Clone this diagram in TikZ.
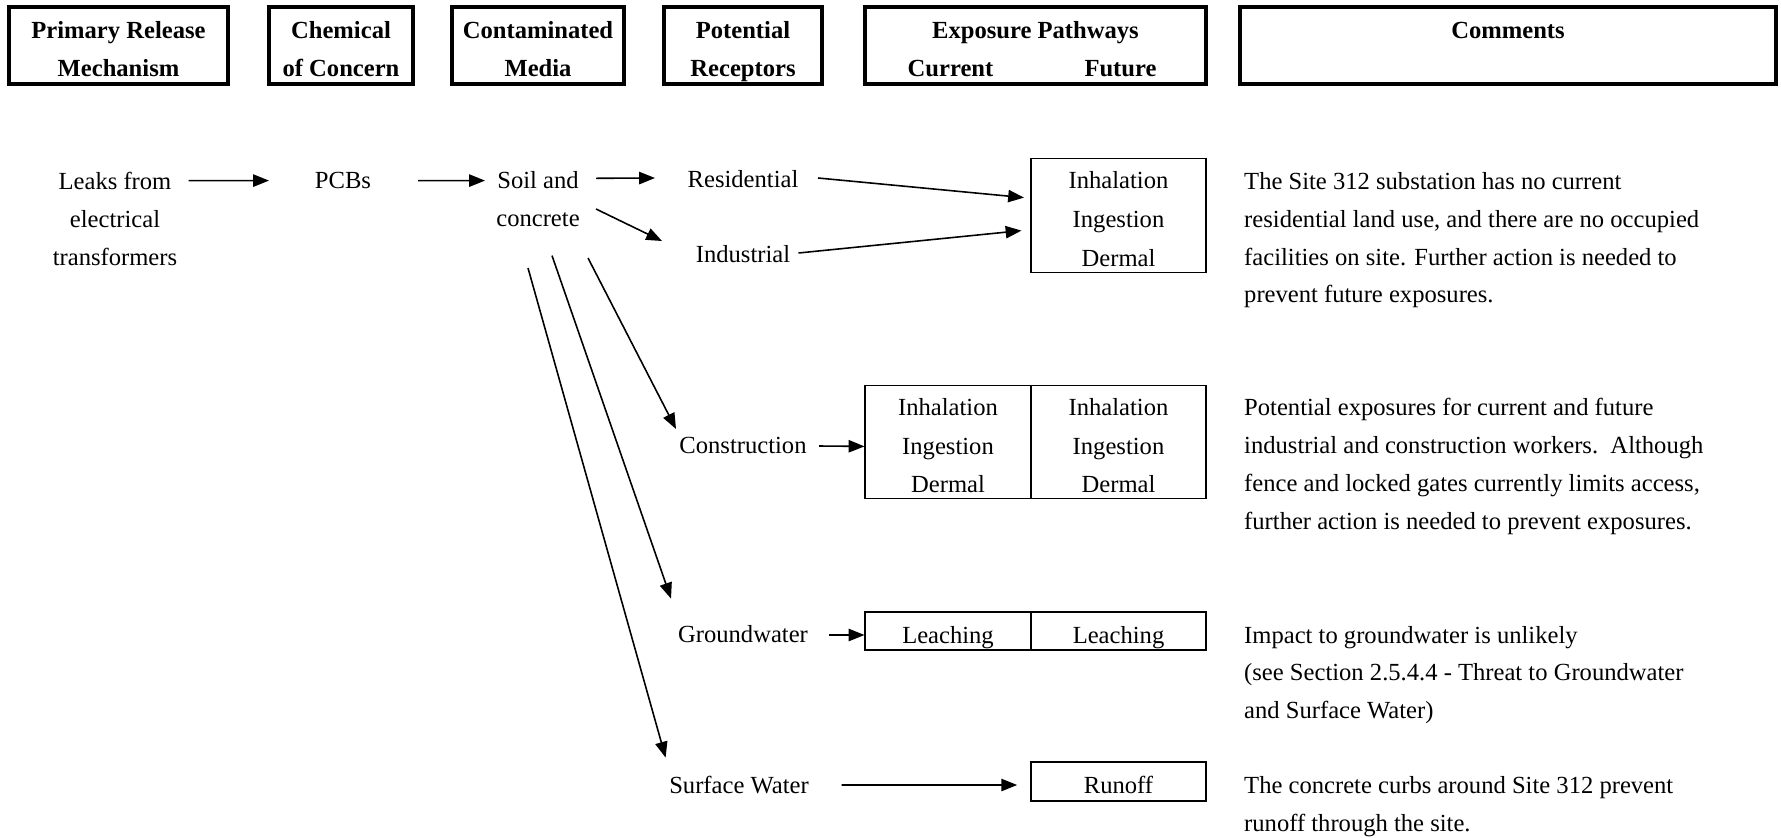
\documentclass[tikz,border=0pt]{standalone}
\usepackage{fontspec}
\setmainfont{Liberation Serif}
\usetikzlibrary{arrows.meta,calc}

\newcommand{\hdtop}{\rule{0pt}{16.6pt}}
\newcommand{\hdbot}{\rule[-3pt]{0pt}{3pt}}
\newcommand{\bxtop}{\rule{0pt}{17pt}}
\newcommand{\bxbot}{\rule[-3pt]{0pt}{3pt}}

\tikzset{
  txt/.style={font=\fontsize{14}{21.5}\selectfont, align=center},
  hdr/.style={draw, line width=1.8pt, font=\fontsize{14}{21.5}\selectfont\bfseries, align=center, minimum height=15.4mm, inner sep=0pt},
  pbox/.style={draw, line width=0.6pt, font=\fontsize{14}{22}\selectfont, align=center, inner sep=0pt},
  cmt/.style={font=\fontsize{14}{21.5}\selectfont, align=left, anchor=west},
  arr/.style={-{Triangle[length=9pt,width=7pt]}, line width=0.9pt}
}

\begin{document}
\begin{tikzpicture}[x=0.2mm,y=-0.2mm]
\useasboundingbox (0,0) rectangle (1781,837);

% headers
\node[hdr, minimum width=43.8mm] (hprm) at (118.5,45.5) {\hdtop Primary Release\\Mechanism\hdbot};
\node[hdr, minimum width=28.8mm] (hcoc) at (341,45.5) {\hdtop Chemical\\of Concern\hdbot};
\node[hdr, minimum width=34.4mm] (hmed) at (538,45.5) {\hdtop Contaminated\\Media\hdbot};
\node[hdr, minimum width=31.6mm] (hrec) at (743,45.5) {\hdtop Potential\\Receptors\hdbot};
\node[hdr, minimum width=68.2mm] (hexp) at (1035.5,45.5) {\hdtop Exposure Pathways\\\makebox[34mm]{Current}\makebox[34mm]{Future}\hdbot};
\node[hdr, minimum width=107.2mm] (hcmt) at (1508,45.5) {\hdtop Comments\\\hdbot};

% sources, media, receptors
\node[txt] (leaks) at (115,218.7) {Leaks from\\electrical\\transformers};
\node[txt] (pcbs) at (343,180.6) {PCBs};
\node[txt] (soil) at (538,199.3) {Soil and\\concrete};
\node[txt] (res) at (743,179) {Residential};
\node[txt] (ind) at (743,254) {Industrial};
\node[txt] (con) at (743,445) {Construction};
\node[txt] (gw) at (743,634) {Groundwater};
\node[txt] (sw) at (739,785) {Surface Water};

% pathway boxes
\node[pbox, minimum width=35mm, minimum height=22.9mm] (pres) at (1118.5,215.3) {\bxtop Inhalation\\Ingestion\\Dermal\bxbot};
\node[pbox, minimum width=33.2mm, minimum height=22.7mm] (pconc) at (948,441.8) {\bxtop Inhalation\\Ingestion\\Dermal\bxbot};
\node[pbox, minimum width=35mm, minimum height=22.7mm] (pconf) at (1118.5,441.8) {\bxtop Inhalation\\Ingestion\\Dermal\bxbot};
\node[pbox, minimum width=33.2mm, minimum height=7.6mm] (pgwc) at (948,631) {\bxtop Leaching\bxbot};
\node[pbox, minimum width=35mm, minimum height=7.6mm] (pgwf) at (1118.5,631) {\bxtop Leaching\bxbot};
\node[pbox, minimum width=35mm, minimum height=7.8mm] (psw) at (1118.5,781.5) {\bxtop Runoff\bxbot};

% comments
\node[cmt] (cres) at (1238,240.3) {The Site 312 substation has no current\\residential land use, and there are no occupied\\facilities on site. Further action is needed to\\prevent future exposures.};
\node[cmt] (ccon) at (1238,466.3) {Potential exposures for current and future\\industrial and construction workers.~~Although\\fence and locked gates currently limits access,\\further action is needed to prevent exposures.};
\node[cmt] (cgw) at (1238,675) {Impact to groundwater is unlikely\\(see Section 2.5.4.4 - Threat to Groundwater\\and Surface Water)};
\node[cmt] (csw) at (1238,806.6) {The concrete curbs around Site 312 prevent\\runoff through the site.};

% arrows
\draw[arr] ($(leaks)+(73.5,-38.1)$) -- ($(pcbs)+(-74,0)$);
\draw[arr] ($(pcbs)+(75,0)$) -- ($(soil)+(-53,-18.7)$);
\draw[arr] ($(soil)+(58,-21)$) -- ($(res)+(-88,-1)$);
\draw[arr] ($(soil)+(58,9.7)$) -- ($(ind)+(-81,-13)$); %soil-ind
\draw[arr] ($(res)+(75,-1)$) -- ($(pres.west)+(-6.5,-17.7)$);
\draw[arr] ($(ind)+(55.5,-1)$) -- ($(pres.west)+(-9,15.3)$);
\draw[arr] ($(soil)+(50,58.7)$) -- ($(con)+(-67,-16)$); %soil-con
\draw[arr] ($(soil)+(14,56.3)$) -- ($(gw)+(-72,-35.4)$); %soil-gw
\draw[arr] ($(soil)+(-10,68.7)$) -- ($(sw)+(-73.4,-27.4)$); %soil-sw
\draw[arr] ($(con)+(76,1)$) -- ($(pconc.west)+(0,4.6)$);
\draw[arr] ($(gw)+(86,1)$) -- ($(pgwc.west)+(0,4)$);
\draw[arr] ($(sw)+(102.6,0)$) -- ($(psw.west)+(-13.3,3.5)$);
\end{tikzpicture}
\end{document}
